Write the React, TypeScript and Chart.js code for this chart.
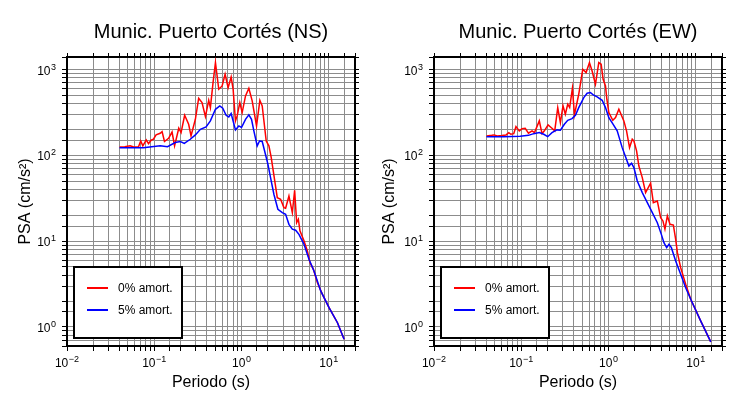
import React, { useEffect, useRef } from 'react';
import { Chart, registerables } from 'chart.js';

Chart.register(...registerables);

const FONT = "'Liberation Sans', Arial, Helvetica, sans-serif";

// ---- NS component ----
const nsPeriod0 = [0.040, 0.046, 0.053, 0.058, 0.066, 0.070, 0.074, 0.081, 0.086, 0.092, 0.098, 0.105, 0.117, 0.123, 0.131, 0.146, 0.160, 0.171, 0.191, 0.203, 0.223, 0.248, 0.264, 0.296, 0.323, 0.353, 0.386, 0.421, 0.440, 0.472, 0.503, 0.549, 0.600, 0.649, 0.703, 0.761, 0.802, 0.853, 0.892, 0.957, 1.018, 1.112, 1.214, 1.326, 1.487, 1.624, 1.728, 1.921, 2.062, 2.193, 2.572, 2.808, 3.063, 3.204, 3.498, 3.826, 4.067, 4.288, 4.485, 4.679, 5.202, 5.692, 6.098, 6.672, 7.417, 8.467, 10.08, 12.59, 15.0];
const nsPsa0 = [125, 126, 129, 125, 126, 147, 129, 151, 137, 150, 154, 173, 181, 189, 145, 158, 187, 129, 207, 184, 293, 230, 168, 263, 463, 412, 283, 438, 360, 704, 1204, 589, 644, 881, 616, 820, 589, 252, 288, 412, 315, 492, 605, 431, 220, 438, 377, 147, 129, 94, 32.1, 30.8, 24.6, 24.2, 33.6, 21.5, 39.2, 16.4, 18.0, 13.2, 10.1, 7.69, 5.62, 4.70, 3.28, 2.40, 1.68, 1.12, 0.72];
const nsPeriod5 = [0.040, 0.075, 0.117, 0.142, 0.174, 0.199, 0.221, 0.259, 0.296, 0.338, 0.393, 0.440, 0.503, 0.564, 0.610, 0.666, 0.715, 0.761, 0.853, 0.932, 1.000, 1.112, 1.214, 1.303, 1.386, 1.514, 1.610, 1.728, 1.838, 2.007, 2.193, 2.351, 2.614, 2.937, 3.204, 3.498, 3.826, 4.175, 4.556, 5.202, 5.937, 6.776, 8.09, 10.08, 12.59, 15.0];
const nsPsa5 = [123, 123, 129, 126, 141, 145, 138, 154, 173, 201, 214, 252, 344, 377, 354, 293, 280, 307, 198, 220, 211, 263, 296, 263, 193, 129, 147, 145, 113, 79, 50, 35.2, 23.5, 21.5, 20.6, 15.7, 13.8, 13.4, 12.0, 9.2, 6.15, 4.49, 2.63, 1.68, 1.12, 0.72];

// ---- EW component ----
const ewPeriod0 = [0.040, 0.046, 0.049, 0.053, 0.060, 0.067, 0.072, 0.076, 0.082, 0.087, 0.095, 0.102, 0.111, 0.121, 0.133, 0.142, 0.161, 0.173, 0.184, 0.203, 0.225, 0.242, 0.262, 0.281, 0.301, 0.320, 0.341, 0.359, 0.386, 0.407, 0.456, 0.507, 0.554, 0.605, 0.649, 0.709, 0.774, 0.824, 0.868, 0.924, 0.958, 1.009, 1.121, 1.204, 1.315, 1.500, 1.610, 1.743, 1.871, 1.955, 2.098, 2.23, 2.44, 2.663, 3.04, 3.265, 3.629, 3.96, 4.208, 4.437, 4.728, 5.066, 5.543, 5.89, 6.163, 6.72, 7.67, 8.76, 11.42, 14.87];
const ewPsa0 = [168, 171, 173, 168, 170, 173, 184, 176, 179, 216, 193, 205, 207, 181, 193, 184, 252, 179, 193, 226, 207, 193, 360, 241, 377, 301, 394, 360, 605, 296, 515, 1007, 921, 1204, 963, 673, 1204, 1152, 770, 644, 451, 315, 256, 275, 344, 252, 193, 123, 154, 147, 113, 75, 55, 36.8, 47.3, 28.1, 29.4, 18.8, 17.2, 13.8, 19.7, 15.7, 15.4, 10.5, 7.35, 4.91, 3.15, 2.10, 1.17, 0.67];
const ewPeriod5 = [0.040, 0.063, 0.097, 0.121, 0.139, 0.161, 0.181, 0.201, 0.225, 0.257, 0.281, 0.312, 0.341, 0.382, 0.418, 0.456, 0.521, 0.569, 0.621, 0.678, 0.741, 0.846, 0.924, 1.009, 1.131, 1.258, 1.436, 1.568, 1.713, 1.838, 1.955, 2.138, 2.44, 2.785, 3.18, 3.629, 4.034, 4.321, 4.642, 4.934, 5.258, 5.89, 6.72, 7.67, 8.76, 11.42, 14.87];
const ewPsa5 = [165, 165, 167, 171, 179, 184, 176, 165, 184, 198, 196, 230, 256, 268, 293, 360, 471, 529, 539, 502, 480, 438, 360, 275, 230, 193, 123, 96, 75, 81, 72, 50.3, 36.8, 28.1, 21.5, 16.4, 12.0, 9.6, 8.4, 9.2, 8.4, 5.88, 4.11, 2.87, 2.10, 1.17, 0.67];

const seriesLabels = ['0% amort.', '5% amort.'];
const seriesColors = ['#ff0000', '#0000ff'];
const titles = ['Munic. Puerto Cortés (NS)', 'Munic. Puerto Cortés (EW)'];
const xLabel = 'Periodo (s)';
const yLabel = 'PSA (cm/s²)';
const xRange = [0.01, 20];
const yRange = [0.6, 1400];

function decade(v: number): number | null {
  const e = Math.log10(v);
  const r = Math.round(e);
  return Math.abs(e - r) > 1e-6 ? null : r;
}

function toPoints(t: number[], v: number[]) {
  return t.map((x, i) => ({ x, y: v[i] }));
}

// Draws "10" with a raised exponent at each decade tick of the x and y scales.
const powerTickLabels = {
  id: 'powerTickLabels',
  afterDraw(chart: any) {
    const { ctx, chartArea } = chart;
    const draw = (value: number, anchorX: number, baseY: number, align: 'center' | 'right') => {
      const e = decade(value);
      if (e === null) return;
      const expText = e < 0 ? '−' + String(-e) : String(e);
      ctx.font = `12px ${FONT}`;
      const wm = ctx.measureText('10').width;
      ctx.font = `9px ${FONT}`;
      const we = ctx.measureText(expText).width;
      const total = wm + 0.5 + we;
      const start = align === 'center' ? anchorX - total / 2 : anchorX - total;
      ctx.font = `12px ${FONT}`;
      ctx.fillText('10', start, baseY);
      ctx.font = `9px ${FONT}`;
      ctx.fillText(expText, start + wm + 0.5, baseY - 5);
    };
    ctx.save();
    ctx.fillStyle = '#000';
    ctx.textAlign = 'left';
    ctx.textBaseline = 'alphabetic';
    const xs = chart.scales.x;
    xs.ticks.forEach((t: any) => draw(t.value, xs.getPixelForValue(t.value), chartArea.bottom + 21, 'center'));
    const ys = chart.scales.y;
    ys.ticks.forEach((t: any) => draw(t.value, chartArea.left - 11, ys.getPixelForValue(t.value) + 5, 'right'));
    ctx.restore();
  },
};

const boxLegend = {
  id: 'boxLegend',
  afterDatasetsDraw(chart: any) {
    const { ctx, chartArea } = chart;
    const w = 108, h = 71;
    const x = chartArea.left + 7;
    const y = chartArea.bottom - 8 - h;
    ctx.save();
    ctx.fillStyle = '#ffffff';
    ctx.fillRect(x, y, w, h);
    ctx.lineWidth = 2;
    ctx.strokeStyle = '#000000';
    ctx.strokeRect(x, y, w, h);
    chart.data.datasets.forEach((ds: any, i: number) => {
      const ly = y + 21 + i * 22;
      ctx.beginPath();
      ctx.strokeStyle = ds.borderColor;
      ctx.lineWidth = 2;
      ctx.moveTo(x + 13, ly);
      ctx.lineTo(x + 34, ly);
      ctx.stroke();
      ctx.fillStyle = '#000';
      ctx.font = `12px ${FONT}`;
      ctx.textBaseline = 'middle';
      ctx.textAlign = 'left';
      ctx.fillText(ds.label, x + 44, ly + 0.5);
    });
    ctx.restore();
  },
};

const GRID = '#8c8c8c';

function makeConfig(title: string, p0: number[], v0: number[], p5: number[], v5: number[], leftW: number, rightW: number, yTitlePad: number) {
  const mainX = {
    type: 'logarithmic',
    position: 'bottom',
    min: xRange[0],
    max: xRange[1],
    afterFit: (s: any) => { s.height = 54; },
    grid: { color: GRID, lineWidth: 1, tickColor: '#000', tickLength: 5 },
    border: { color: '#000', width: 2 },
    ticks: {
      autoSkip: false, minRotation: 0, maxRotation: 0, color: '#000', padding: 3,
      font: { family: FONT, size: 12 },
      callback: () => '',
    },
    title: { display: true, text: xLabel, color: '#000', font: { family: FONT, size: 16 }, padding: { top: 0, bottom: 8 } },
  };
  const mainY = {
    type: 'logarithmic',
    position: 'left',
    min: yRange[0],
    max: yRange[1],
    afterFit: (s: any) => { s.width = leftW; },
    grid: { color: GRID, lineWidth: 1, tickColor: '#000', tickLength: 5 },
    border: { color: '#000', width: 2 },
    ticks: {
      autoSkip: false, color: '#000', padding: 6,
      font: { family: FONT, size: 12 },
      callback: () => '',
    },
    title: { display: true, text: yLabel, color: '#000', font: { family: FONT, size: 16 }, padding: { top: yTitlePad, bottom: 0 } },
  };
  return {
    type: 'line',
    data: {
      datasets: [
        { label: seriesLabels[0], data: toPoints(p0, v0), borderColor: seriesColors[0], backgroundColor: seriesColors[0], borderWidth: 1.5, pointRadius: 0, tension: 0, fill: false, order: 1 },
        { label: seriesLabels[1], data: toPoints(p5, v5), borderColor: seriesColors[1], backgroundColor: seriesColors[1], borderWidth: 1.5, pointRadius: 0, tension: 0, fill: false, order: 0 },
      ],
    },
    options: {
      responsive: false,
      maintainAspectRatio: false,
      animation: false,
      events: [],
      layout: { padding: 0 },
      plugins: {
        legend: { display: false },
        tooltip: { enabled: false },
        title: {
          display: true, text: title, color: '#000', fullSize: false,
          font: { family: FONT, size: 20, weight: 'normal', lineHeight: 1.2 },
          padding: { top: 20, bottom: 4 },
        },
      },
      scales: {
        x: mainX,
        x2: {
          type: 'logarithmic', axis: 'x', position: 'top', min: xRange[0], max: xRange[1],
          afterFit: (s: any) => { s.height = 9; },
          grid: { drawOnChartArea: false, tickColor: '#000', tickLength: 4 },
          border: { color: '#000', width: 2 },
          ticks: { display: false, autoSkip: false },
        },
        y: mainY,
        y2: {
          type: 'logarithmic', axis: 'y', position: 'right', min: yRange[0], max: yRange[1],
          afterFit: (s: any) => { s.width = rightW; },
          grid: { drawOnChartArea: false, tickColor: '#000', tickLength: 4 },
          border: { color: '#000', width: 2 },
          ticks: { display: false, autoSkip: false },
        },
      },
    },
    plugins: [boxLegend, powerTickLabels],
  };
}

function SpectrumChart(props: { cfg: () => any }) {
  const ref = useRef<HTMLCanvasElement | null>(null);
  useEffect(() => {
    if (!ref.current) return;
    const chart = new Chart(ref.current, props.cfg() as any);
    return () => chart.destroy();
  }, []);
  return <canvas ref={ref} width={365} height={400} style={{ display: 'block', width: 365, height: 400 }} />;
}

export default function App() {
  return (
    <div style={{ position: 'absolute', left: 0, top: 0, width: 730, height: 400, display: 'flex', background: '#fff' }}>
      <SpectrumChart cfg={() => makeConfig(titles[0], nsPeriod0, nsPsa0, nsPeriod5, nsPsa5, 67, 10, 16)} />
      <SpectrumChart cfg={() => makeConfig(titles[1], ewPeriod0, ewPsa0, ewPeriod5, ewPsa5, 69, 8, 15)} />
    </div>
  );
}
